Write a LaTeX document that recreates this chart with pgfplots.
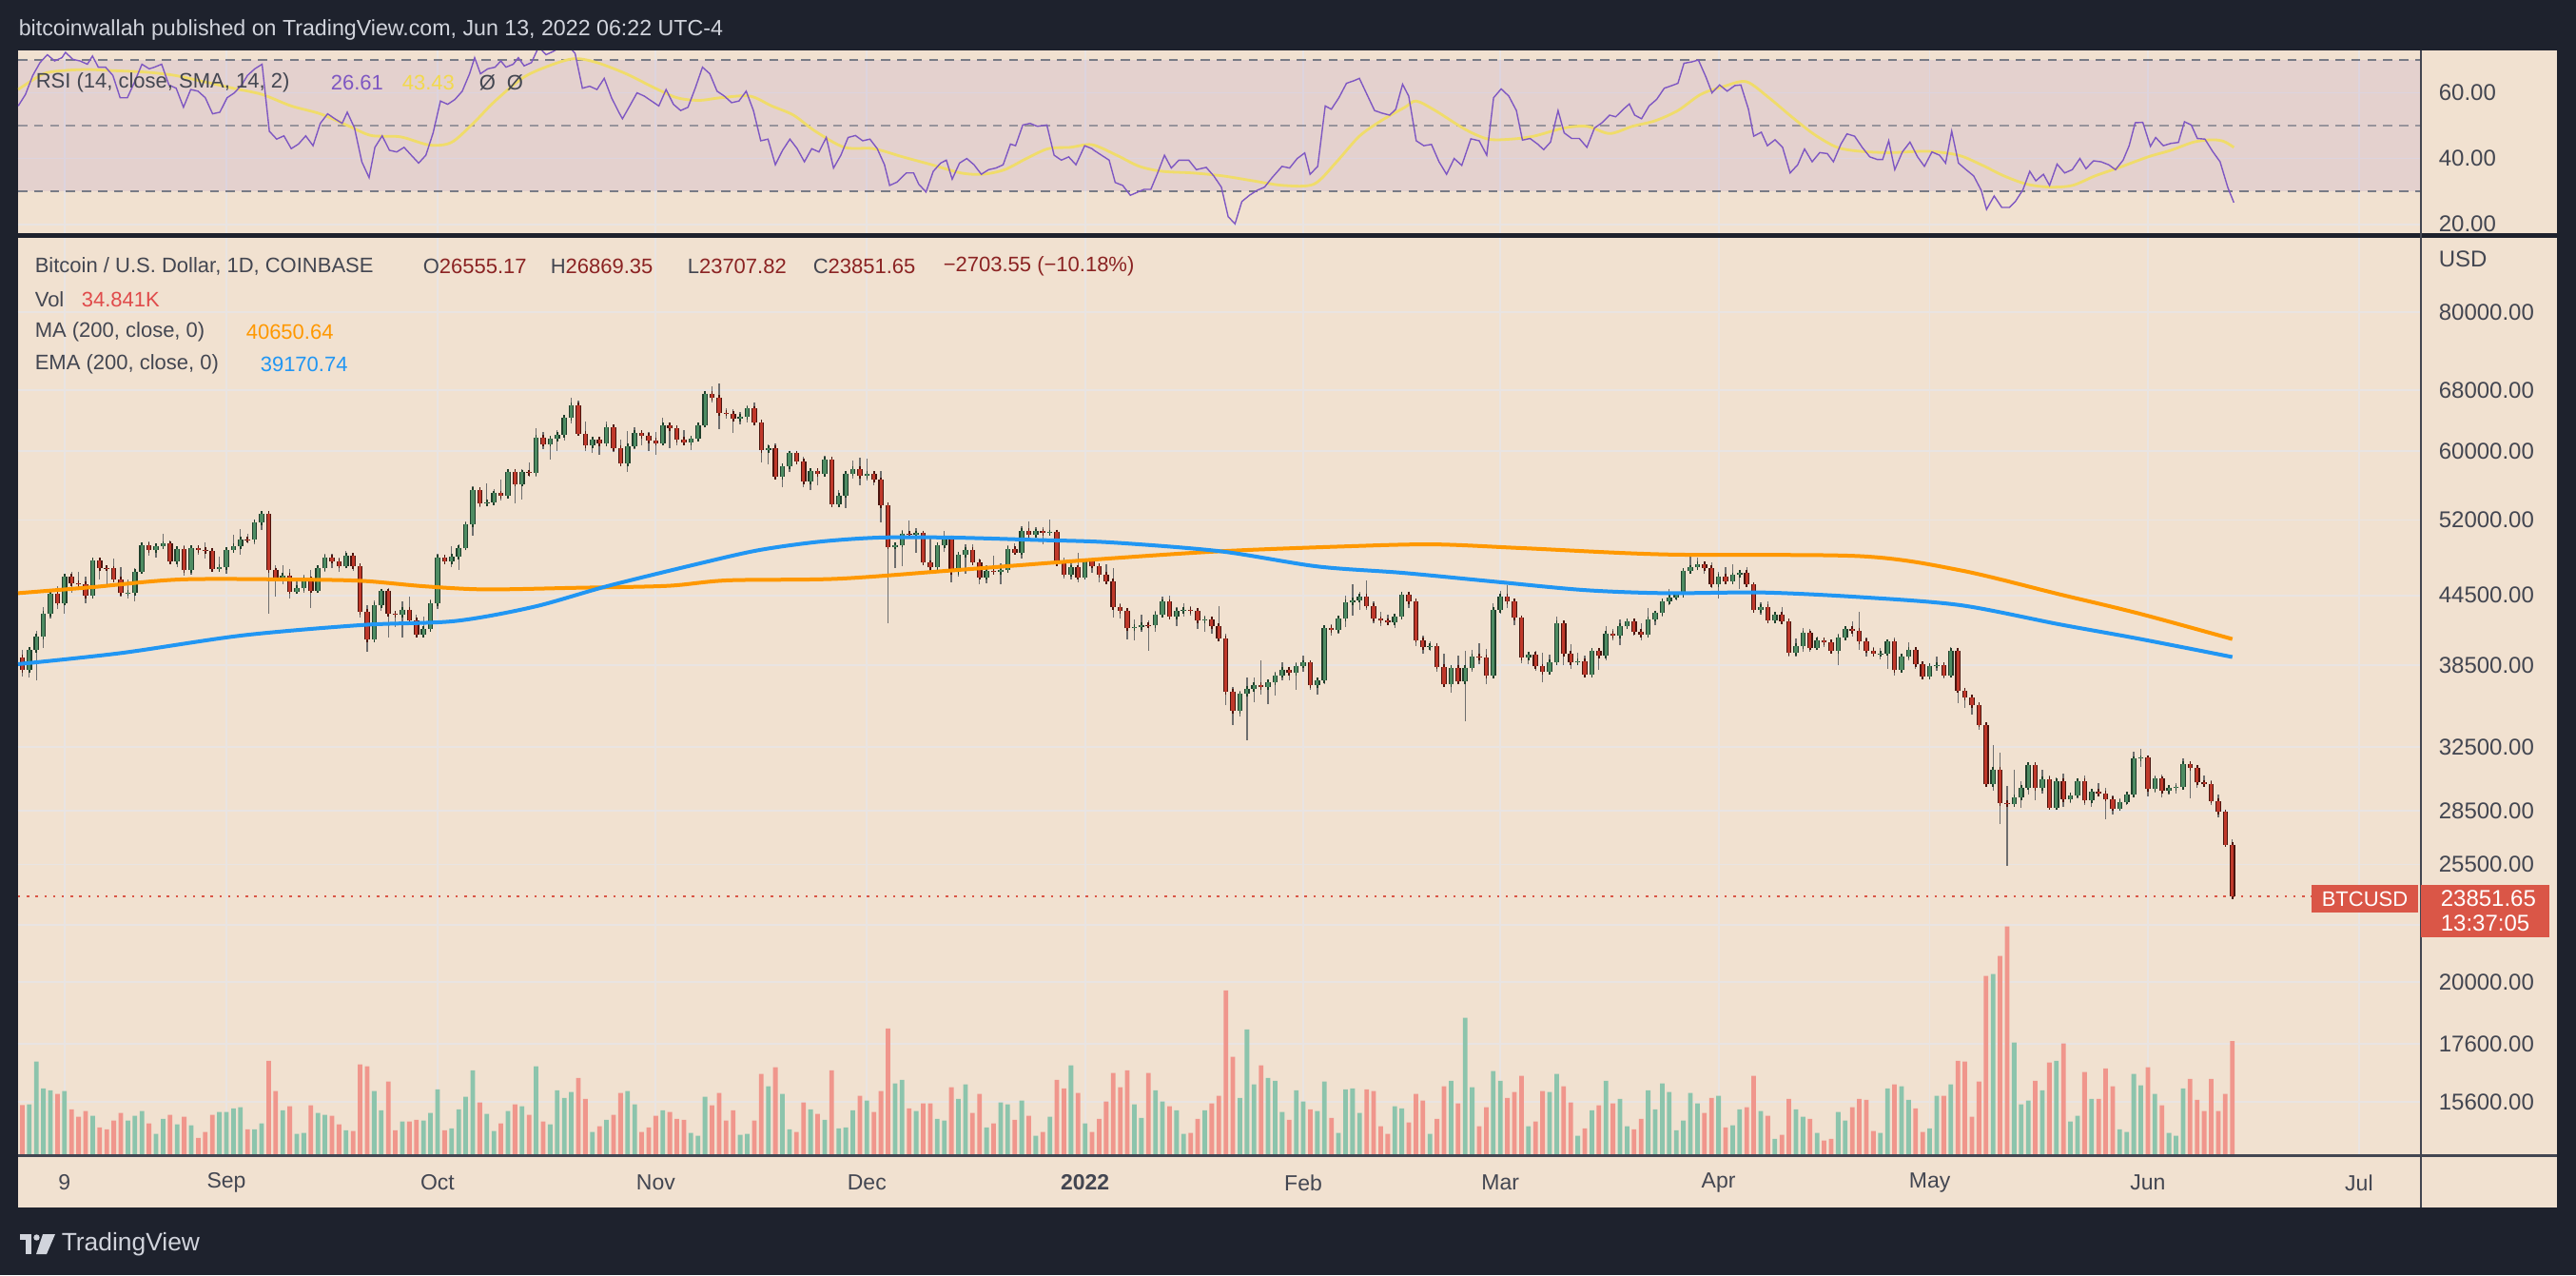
\documentclass[border=0pt]{standalone}
\usepackage{pgfplots}
\pgfplotsset{compat=1.18}
\usepackage{pgfplotstable}
\usepackage{fontspec}
\setmainfont{Liberation Sans}
\definecolor{frame}{HTML}{1E222D}
\definecolor{bg}{HTML}{F1E1D0}
\definecolor{gridc}{HTML}{E9E4E2}
\definecolor{dashc}{HTML}{787B86}
\definecolor{rsic}{HTML}{7E57C2}
\definecolor{smac}{HTML}{F0DC6A}
\definecolor{mac}{HTML}{FF9800}
\definecolor{emac}{HTML}{2196F3}
\definecolor{gbody}{HTML}{4E8C63}
\definecolor{gline}{HTML}{1F3F2B}
\definecolor{rbody}{HTML}{C0392B}
\definecolor{rline}{HTML}{4A140E}
\definecolor{wick}{HTML}{6E6E6E}
\definecolor{volg}{HTML}{8CC4AC}
\definecolor{volr}{HTML}{F0968C}
\definecolor{lbl}{HTML}{434651}
\definecolor{pricered}{HTML}{DA5647}
\definecolor{ohlc}{HTML}{8B2323}
\definecolor{volval}{HTML}{E04B4B}
\definecolor{hdr}{HTML}{D1D4DC}
\definecolor{yel}{HTML}{F2D94E}

\pgfplotstableread{
d o h l c v
2 39.15 39.78 37.65 38.15 15.3
3 38.15 39.95 37.51 39.74 15.5
4 39.74 41.37 37.33 40.87 28.6
5 40.87 43.39 39.88 42.83 20.4
6 42.83 44.70 42.45 44.61 19.8
7 44.61 45.31 43.30 43.81 18.7
8 43.81 46.45 42.85 46.29 19.6
9 46.29 46.70 44.70 45.60 14.0
10 45.60 46.74 45.35 45.55 11.7
11 45.55 46.22 43.80 44.43 13.5
12 44.43 47.89 44.24 47.81 12.0
13 47.81 48.14 45.98 47.10 8.5
14 47.10 47.39 45.54 47.05 7.9
15 47.05 48.05 45.67 45.99 10.6
16 45.99 47.16 44.40 44.69 12.9
17 44.69 46.00 44.21 44.74 10.6
18 44.74 47.04 43.97 46.75 12.0
19 46.75 49.38 46.67 49.34 13.5
20 49.34 49.79 48.31 48.87 9.7
21 48.87 49.51 48.15 49.28 6.5
22 49.28 50.50 49.05 49.51 11.1
23 49.51 49.85 47.60 47.71 12.3
24 47.71 49.24 47.16 48.98 9.4
25 48.98 49.34 46.33 46.90 11.7
26 46.90 49.17 46.40 49.06 9.1
27 49.06 49.30 48.42 48.90 5.3
28 48.90 49.63 48.03 48.81 7.1
29 48.81 48.91 46.87 46.99 12.3
30 46.99 48.22 46.70 47.15 13.2
31 47.15 48.95 46.57 48.85 13.2
32 48.85 50.40 48.65 49.27 14.3
33 49.27 51.05 48.38 49.99 14.6
34 49.99 50.55 49.51 49.92 7.9
35 49.92 51.90 49.45 51.77 7.9
36 51.77 52.78 50.99 52.67 9.7
37 52.67 52.92 42.84 46.86 28.8
38 46.86 47.36 44.41 46.08 19.6
39 46.08 47.40 45.53 46.37 13.7
40 46.37 47.03 44.17 44.85 14.9
41 44.85 45.99 44.75 45.16 6.5
42 45.16 46.47 44.76 46.04 6.8
43 46.04 46.88 43.37 44.95 15.2
44 44.95 47.26 44.69 47.10 12.9
45 47.10 48.47 46.72 48.16 12.3
46 48.16 48.50 47.06 47.78 12.0
47 47.78 48.15 46.76 47.30 9.4
48 47.30 48.81 47.06 48.31 7.6
49 48.31 48.36 46.85 47.26 7.4
50 47.26 47.35 42.50 42.99 27.7
51 42.99 43.63 39.60 40.62 27.1
52 40.62 44.00 40.56 43.58 19.6
53 43.58 44.98 43.07 44.88 13.7
54 44.88 45.15 40.77 42.84 22.5
55 42.84 42.96 41.68 42.72 7.6
56 42.72 43.92 40.80 43.21 10.3
57 43.21 44.35 42.11 42.24 10.3
58 42.24 42.78 40.90 41.03 10.8
59 41.03 42.62 40.76 41.52 10.6
60 41.52 44.13 41.44 43.79 12.9
61 43.79 48.49 43.29 48.12 20.1
62 48.12 48.34 47.43 47.71 7.6
63 47.71 49.25 47.14 48.20 8.2
64 48.20 49.49 46.91 49.11 14.0
65 49.11 51.88 49.05 51.51 17.8
66 51.51 55.75 50.38 55.33 25.9
67 55.33 55.34 53.39 53.80 16.1
68 53.80 56.10 53.66 53.96 12.6
69 53.96 55.49 53.70 54.96 7.4
70 54.96 56.55 54.10 54.66 9.7
71 54.66 57.84 54.43 57.48 13.5
72 57.48 57.68 53.88 56.04 15.5
73 56.04 57.81 54.30 57.40 14.9
74 57.40 58.54 56.84 57.36 12.3
75 57.36 62.93 56.86 61.67 27.1
76 61.67 62.37 60.17 60.88 10.3
77 60.88 61.73 58.98 61.53 9.4
78 61.53 62.66 60.00 62.01 19.8
79 62.01 64.49 61.33 64.28 17.5
80 64.28 67.00 63.48 66.00 19.3
81 66.00 66.64 62.05 62.21 23.6
82 62.21 63.73 60.00 60.69 17.2
83 60.69 61.75 59.71 61.39 7.1
84 61.39 61.47 59.50 60.89 8.8
85 60.89 63.72 60.66 63.04 10.8
86 63.04 63.29 59.84 60.36 12.3
87 60.36 61.46 58.10 58.47 19.0
88 58.47 62.50 57.43 60.62 19.6
89 60.62 62.96 60.21 62.25 15.5
90 62.25 62.36 60.72 61.89 7.1
91 61.89 62.41 60.03 61.32 8.5
92 61.32 62.39 59.54 61.00 12.0
93 61.00 64.27 60.69 63.23 13.7
94 63.23 63.52 60.37 62.93 13.2
95 62.93 62.93 60.72 61.44 11.1
96 61.44 62.60 60.75 61.01 10.8
97 61.01 61.57 60.11 61.53 6.8
98 61.53 63.30 61.34 63.32 5.9
99 63.32 67.79 63.12 67.56 17.8
100 67.56 68.53 66.38 66.95 15.2
101 66.95 69.00 62.82 64.93 19.0
102 64.93 65.58 64.11 64.83 10.6
103 64.83 65.48 62.33 64.16 13.7
104 64.16 64.97 63.41 64.40 6.2
105 64.40 65.90 63.60 65.50 6.5
106 65.50 66.34 63.37 63.62 10.6
107 63.62 63.62 58.57 60.11 24.8
108 60.11 60.81 58.37 60.37 21.0
109 60.37 60.95 56.50 56.89 26.8
110 56.89 58.37 55.62 58.12 18.7
111 58.12 59.85 57.44 59.70 7.9
112 59.70 60.00 58.50 58.73 7.1
113 58.73 59.29 55.61 56.30 16.1
114 56.30 57.87 55.39 57.57 14.0
115 57.57 57.75 55.88 57.18 12.6
116 57.18 59.40 57.00 58.96 10.8
117 58.96 59.18 53.55 53.73 25.9
118 53.73 55.32 53.66 54.72 8.2
119 54.72 57.44 53.30 57.27 8.5
120 57.27 58.87 56.71 57.80 13.7
121 57.80 59.20 55.88 56.95 18.1
122 56.95 59.04 56.46 57.20 16.7
123 57.20 57.38 55.84 56.51 13.2
124 56.51 57.60 51.70 53.60 19.6
125 53.60 53.86 42.00 49.20 38.7
126 49.20 49.70 47.10 49.40 21.9
127 49.40 50.90 47.30 50.58 23.0
128 50.58 51.94 50.05 50.47 14.3
129 50.47 51.18 48.62 50.60 13.5
130 50.60 50.78 47.33 47.60 15.8
131 47.60 50.10 46.85 47.14 15.8
132 47.14 49.47 46.66 49.38 11.1
133 49.38 50.80 48.67 50.10 10.6
134 50.10 50.20 45.67 46.70 20.7
135 46.70 48.70 46.30 48.38 17.2
136 48.38 49.50 46.55 48.88 21.6
137 48.88 49.45 47.52 47.64 12.9
138 47.64 47.99 45.50 46.20 18.7
139 46.20 47.33 45.60 46.85 8.5
140 46.85 48.30 46.41 46.70 9.7
141 46.70 47.53 45.56 46.88 16.1
142 46.88 49.33 46.65 48.96 15.5
143 48.96 49.58 48.45 48.62 10.8
144 48.62 51.38 48.05 50.82 16.7
145 50.82 51.82 50.40 50.43 12.0
146 50.43 51.20 50.20 50.81 5.9
147 50.81 51.28 49.45 50.64 7.1
148 50.64 52.10 50.48 50.70 11.7
149 50.70 50.70 47.32 47.54 23.0
150 47.54 48.13 46.10 46.47 20.4
151 46.47 47.90 46.00 47.13 27.4
152 47.13 48.55 45.68 46.21 19.0
153 46.21 47.93 46.21 47.72 9.7
154 47.72 47.98 46.66 47.30 7.1
155 47.30 47.57 45.70 46.44 11.1
156 46.44 47.50 45.52 45.83 16.4
157 45.83 47.07 42.50 43.43 25.1
158 43.43 43.75 42.43 43.10 20.7
159 43.10 43.14 40.61 41.55 25.9
160 41.55 42.30 40.50 41.68 15.5
161 41.68 42.79 41.27 41.87 11.4
162 41.87 42.25 39.65 41.83 25.1
163 41.83 43.10 41.27 42.74 19.8
164 42.74 44.35 42.47 43.92 16.4
165 43.92 44.44 42.31 42.59 14.9
166 42.59 43.45 41.73 43.10 13.7
167 43.10 43.80 42.60 43.18 6.5
168 43.18 43.48 42.69 43.11 6.8
169 43.11 43.18 41.54 42.25 11.1
170 42.25 42.69 41.27 42.37 13.7
171 42.37 42.59 41.14 41.74 15.8
172 41.74 43.51 40.55 40.69 18.1
173 40.69 41.10 35.44 36.47 50.3
174 36.47 36.80 34.01 35.05 30.0
175 35.05 36.55 34.62 36.28 17.5
176 36.28 37.55 32.95 36.68 38.4
177 36.68 37.55 35.70 36.96 21.6
178 36.96 38.92 36.26 36.82 27.4
179 36.82 37.23 35.51 37.18 23.6
180 37.18 38.00 36.15 37.72 22.7
181 37.72 38.72 37.31 38.17 13.2
182 38.17 38.36 37.35 37.92 10.8
183 37.92 38.74 36.63 38.48 19.8
184 38.48 39.27 38.02 38.72 16.4
185 38.72 38.86 36.62 36.95 14.0
186 36.95 37.39 36.26 37.32 13.5
187 37.32 41.73 37.06 41.57 22.5
188 41.57 41.95 40.95 41.41 11.4
189 41.41 42.63 41.13 42.41 6.8
190 42.41 44.50 41.68 43.85 20.1
191 43.85 45.49 42.67 44.06 20.4
192 44.06 44.80 43.17 44.39 12.9
193 44.39 45.86 43.20 43.56 20.1
194 43.56 43.93 42.02 42.39 19.6
195 42.39 43.00 41.78 42.22 8.8
196 42.22 42.76 41.89 42.07 6.5
197 42.07 42.85 41.57 42.57 14.9
198 42.57 44.77 42.44 44.58 14.3
199 44.58 44.58 43.33 43.95 10.0
200 43.95 44.20 40.10 40.57 18.7
201 40.57 40.97 39.45 40.00 16.7
202 40.00 40.48 39.65 40.10 6.5
203 40.10 40.15 38.03 38.40 11.1
204 38.40 39.48 36.80 37.02 21.0
205 37.02 38.45 36.35 38.28 22.7
206 38.28 39.25 37.07 37.26 15.8
207 37.26 39.70 34.32 38.33 41.9
208 38.33 39.72 38.02 39.22 20.7
209 39.22 40.30 38.57 39.12 8.8
210 39.12 39.85 37.00 37.70 14.6
211 37.70 43.75 37.45 43.19 25.7
212 43.19 44.95 42.83 44.42 22.7
213 44.42 45.40 43.35 43.93 17.5
214 43.93 44.10 41.85 42.46 19.3
215 42.46 42.53 38.70 39.15 24.2
216 39.15 39.63 38.60 39.40 8.8
217 39.40 39.70 38.10 38.42 10.3
218 38.42 39.55 37.15 37.99 19.6
219 37.99 39.40 37.88 38.74 19.3
220 38.74 42.60 38.66 41.98 24.8
221 41.98 42.00 38.55 39.44 21.0
222 39.44 40.20 38.24 38.73 16.1
223 38.73 39.50 38.66 38.81 5.9
224 38.81 39.30 37.60 37.79 8.2
225 37.79 39.93 37.58 39.68 13.7
226 39.68 39.87 38.12 39.28 15.2
227 39.28 41.72 38.92 41.12 22.7
228 41.12 41.47 40.53 40.92 15.8
229 40.92 42.33 40.14 41.77 17.2
230 41.77 42.40 41.52 42.20 8.8
231 42.20 42.30 40.92 41.26 7.9
232 41.26 42.00 40.50 41.00 11.1
233 41.00 43.35 40.90 42.37 19.8
234 42.37 43.00 41.85 42.89 14.0
235 42.89 44.25 42.60 43.96 21.9
236 43.96 45.10 43.60 44.33 19.3
237 44.33 44.80 44.07 44.52 7.6
238 44.52 46.94 44.42 46.82 10.6
239 46.82 48.19 46.65 47.13 19.0
240 47.13 48.10 46.95 47.45 15.8
241 47.45 47.70 46.55 47.07 12.9
242 47.07 47.60 45.20 45.53 17.5
243 45.53 46.70 44.20 46.29 18.1
244 46.29 47.20 45.62 45.82 8.5
245 45.82 47.43 45.53 46.41 9.1
246 46.41 46.89 45.12 46.62 14.0
247 46.62 47.20 45.36 45.50 14.6
248 45.50 45.50 43.10 43.17 24.2
249 43.17 43.90 42.73 43.44 13.5
250 43.44 43.97 42.11 42.25 12.0
251 42.25 42.80 42.13 42.76 5.0
252 42.76 43.42 42.15 42.16 6.2
253 42.16 42.42 39.20 39.53 17.2
254 39.53 40.68 39.24 40.07 14.0
255 40.07 41.55 39.57 41.15 11.7
256 41.15 41.47 39.57 39.94 11.1
257 39.94 40.85 39.78 40.55 6.8
258 40.55 40.70 40.02 40.38 4.5
259 40.38 40.60 39.55 39.68 5.0
260 39.68 41.10 38.53 40.80 13.2
261 40.80 41.75 40.55 41.50 10.6
262 41.50 42.20 40.83 41.37 14.6
263 41.37 42.98 39.75 40.48 17.2
264 40.48 40.80 39.17 39.71 16.9
265 39.71 39.98 39.30 39.45 7.4
266 39.45 39.93 39.00 39.47 6.8
267 39.47 40.60 38.20 40.43 20.4
268 40.43 40.80 37.70 38.11 21.6
269 38.11 39.45 37.88 39.24 21.0
270 39.24 40.36 38.88 39.74 16.9
271 39.74 39.90 38.20 38.60 14.3
272 38.60 38.80 37.58 37.64 7.1
273 37.64 38.68 37.39 38.47 8.2
274 38.47 39.17 38.05 38.52 18.1
275 38.52 38.65 37.50 37.72 18.1
276 37.72 40.00 37.67 39.69 21.6
277 39.69 39.85 35.58 36.55 28.8
278 36.55 36.65 35.25 36.01 28.6
279 36.01 36.13 34.75 35.47 11.7
280 35.47 35.50 33.71 34.05 22.5
281 34.05 34.24 30.03 30.10 54.7
282 30.10 32.66 29.73 31.01 55.3
283 31.01 32.16 27.70 28.95 60.8
284 28.95 30.00 25.40 28.90 69.8
285 28.90 30.99 28.71 29.28 34.4
286 29.28 30.31 28.64 29.90 15.5
287 29.90 31.41 29.48 31.31 16.7
288 31.31 31.31 29.10 29.86 22.7
289 29.86 31.02 29.53 30.43 19.8
290 30.43 30.68 28.62 28.69 28.3
291 28.69 30.53 28.68 30.31 28.8
292 30.31 30.75 28.73 29.19 34.1
293 29.19 29.60 28.95 29.43 10.3
294 29.43 30.45 29.25 30.32 12.0
295 30.32 30.67 28.85 29.10 25.4
296 29.10 29.83 28.70 29.65 17.2
297 29.65 30.20 29.37 29.54 17.2
298 29.54 29.85 28.02 29.20 26.5
299 29.20 29.38 28.28 28.63 21.0
300 28.63 29.25 28.57 29.03 7.9
301 29.03 29.55 28.85 29.47 7.1
302 29.47 32.22 29.30 31.73 24.8
303 31.73 32.40 31.20 31.80 21.3
304 31.80 31.96 29.35 29.80 26.8
305 29.80 30.66 29.58 30.45 18.7
306 30.45 30.69 29.30 29.70 15.2
307 29.70 29.95 29.48 29.86 6.8
308 29.86 30.15 29.50 29.91 5.9
309 29.91 31.76 29.88 31.37 20.4
310 31.37 31.56 29.22 31.13 23.3
311 31.13 31.33 29.85 30.21 16.9
312 30.21 30.65 29.95 30.10 13.5
313 30.10 30.38 28.85 29.09 23.3
314 29.09 29.45 28.10 28.42 13.5
315 28.42 28.55 26.50 26.57 18.7
316 26.555 26.869 23.708 23.852 34.8
}\ohlc

\pgfplotstableread{
x r
1.42 56
2.45 59.5
3.49 65.3
4.52 69.2
5.56 71.6
6.59 69.7
7.63 70.7
8.14 72.3
9.18 70.2
10.21 69.7
11.25 68.7
11.97 71.2
12.80 67.8
13.83 67.8
14.87 65.3
15.90 58.5
16.93 58.5
17.97 63.4
19.00 68.7
20.04 67.3
20.76 67.8
21.80 68.7
22.83 62.4
23.86 61.4
24.90 55.6
25.93 61
26.97 60.5
28.00 58.5
29.04 53.6
30.07 54.1
31.10 58.5
32.14 60
33.17 62.4
34.00 65.3
35.03 67.3
36.07 68.7
37.10 48.3
38.14 45.9
39.17 46.9
40.21 43
41.24 44.4
42.27 46.9
43.31 43.9
44.34 50.7
45.38 53.6
46.41 52.1
47.45 50.7
48.17 54.1
49.20 49.3
50.24 39
51.27 34.2
52.10 43.4
53.13 46.9
54.17 42.5
55.20 42
56.24 43.4
57.27 41
58.31 38.6
59.34 41
60.37 47.8
61.41 57.5
62.44 56.5
63.48 58
64.51 60.5
65.55 65.8
66.27 70.7
67.10 65.8
68.13 67.3
69.17 67.8
69.99 69.7
70.72 67.8
71.75 68.7
72.48 70.7
73.30 68.2
74.34 69.2
75.37 74
76.41 71.6
77.44 72.6
78.48 74
79.51 74.5
80.54 72
81.58 61.4
82.61 62
83.65 61
84.68 64.4
85.72 58.5
86.75 54.1
87.27 52.1
88.30 56
89.34 60
90.37 59
91.40 57.5
92.44 56
93.47 61
94.51 56.5
95.54 54.6
96.58 55.6
97.61 61.4
98.64 67.8
99.68 65.8
100.71 60.5
101.75 59
102.78 57
103.82 57.5
104.85 60.5
105.88 54.6
106.92 45.4
107.95 45.9
108.99 38.1
110.02 42.5
111.06 45.9
112.09 43
113.12 39
114.16 43
115.19 42
116.23 46.4
117.26 37.1
118.30 41
119.33 46.4
120.37 47
121.40 45.4
122.43 45.9
123.47 43
124.50 38.1
125.23 31.8
126.26 32.8
127.60 35.6
128.64 35.6
129.36 32.2
130.40 29.8
131.43 36.1
132.47 38.6
133.29 39.5
134.12 33.7
135.16 38.6
136.19 40
137.22 38.1
138.26 35.2
139.29 36.6
140.33 37.1
141.36 38.1
142.40 44.4
143.12 43.9
144.15 50.2
145.19 50.7
146.22 49.8
147.57 50.2
148.60 41
149.63 39.5
150.67 40.5
151.70 38.1
152.94 43.9
153.98 43
154.26 42.5
155.34 41
156.42 39.5
157.28 32.7
158.35 31.8
159.43 28.8
160.51 29.8
161.37 30.6
162.34 30.6
163.31 35.6
164.28 41
165.25 37.1
166.33 39.5
167.73 39.5
168.81 36.6
170.21 37.3
171.28 34.7
172.36 31.3
173.33 22.3
174.30 20.1
175.27 26.9
176.35 28.8
177.43 30.3
178.50 31.3
179.58 34.2
180.98 37.6
182.06 37.1
183.14 40
184.21 41.7
184.97 35.2
186.05 37.6
187.12 56
187.99 55
189.06 58.5
190.14 62.9
191.22 63.7
191.97 64.4
193.05 59.5
194.13 54.6
195.21 53.8
196.28 53.2
197.14 55
198.11 62.6
198.98 59
200.05 45.4
201.13 43.9
202.21 44.3
203.29 39
204.36 35.2
205.44 40
206.52 37.9
207.81 46
208.99 45.4
210.07 41
211.04 58.5
212.12 61.2
213.20 59
214.28 54.6
215.14 45.6
216.22 46.1
217.29 44.4
218.16 42.7
219.13 45
220.20 54.6
221.07 47.8
222.14 46.1
223.22 46.1
224.30 43.4
225.38 49.3
226.45 50.9
227.53 53.2
228.39 52.7
229.47 55
230.33 56.6
231.09 53.2
232.06 52.1
233.13 56
234.21 58
235.29 61.4
236.37 62.2
237.23 62.9
238.09 69
239.17 69.4
240.14 70
241.21 64.8
242.07 60
243.15 62.4
244.23 60.5
245.31 62.2
246.17 62.4
247.25 55
248.00 46.8
249.08 48
249.94 43.9
251.02 45.7
252.10 43.4
253.17 35.6
254.25 38.1
255.22 42.9
256.30 39
257.38 41.8
258.45 41.5
259.32 39
260.39 44.4
261.25 47.5
262.33 46.8
263.41 43.4
264.49 40.5
265.56 39.7
266.32 39.7
267.18 45.4
268.04 36.6
269.12 42
270.20 45
271.28 40.5
272.25 37.6
273.32 42
274.40 41
275.26 38.6
276.13 48.3
277.09 38.6
278.17 36.6
279.25 34.7
280.33 30.3
281.08 24.5
282.16 28.6
283.24 25.1
284.31 25.1
285.17 26.9
286.25 30.5
287.22 36.1
288.08 33.2
289.16 35.2
290.03 31.8
291.10 38.3
292.18 35.6
293.26 36.6
294.34 40
295.20 36.9
296.28 39.3
297.35 39
298.43 38.1
299.40 36.6
300.48 39.5
301.34 43.9
302.20 50.9
303.28 51
304.36 43.7
305.11 46.4
306.19 43.9
307.27 44.6
308.34 44.9
309.20 51.2
310.17 50.2
311.03 46.1
312.11 45.9
313.19 42.2
314.26 39
315.34 31.3
316.21 26.6
}\rsidata

\pgfplotstableread{
x s
1.42 61
5.04 65.8
8.14 66.8
11.25 67.1
14.35 66.8
19.52 66.3
23.66 65.3
27.79 63.4
31.93 61.4
36.07 59.5
40.21 56
44.34 53.6
48.48 49.8
51.58 47
55.72 46.6
59.86 44.1
62.96 44.9
66.06 50.7
69.17 57.5
73.30 64.8
77.44 68.7
80.54 70.4
83.65 69.2
87.78 65.8
91.92 61.4
95.02 58.5
98.13 57.7
101.23 58.5
105.37 59
108.47 56
111.57 53.2
114.67 48.3
118.81 43.4
122.95 43
127.09 40.5
131.22 38.1
135.36 35.6
138.46 35.2
141.57 36.6
144.67 40
147.77 43
150.88 43.4
153.98 44.2
157.49 41
160.73 37.6
163.96 36.1
168.27 35.6
172.58 34.7
176.89 33.2
181.20 31.8
185.51 32.2
188.74 39
191.97 46.8
195.21 51.7
198.44 55.6
200.05 57.5
202.75 54.6
207.06 48.8
210.29 45.9
213.52 45.9
216.76 46.8
221.07 49.3
224.30 49.8
227.53 47.6
230.76 49.8
234.00 51.5
237.23 54.6
240.46 59.5
243.69 61.9
246.93 63.4
250.16 58.5
253.39 52.7
256.62 47.3
259.86 43.4
263.09 42.2
267.40 41.8
272.78 42.2
277.09 41
280.33 38.1
283.56 34.7
286.79 32.2
290.03 31.3
293.26 31.8
296.49 34.7
299.72 37.1
304.03 40.5
307.27 42.5
310.50 45
313.19 45.7
314.80 45.2
316.21 43.4
}\smadata

\newcommand{\lf}{\fontsize{5.5}{6.5}\selectfont}
\newcommand{\af}{\fontsize{6}{7}\selectfont}

\begin{document}
\begin{tikzpicture}
\useasboundingbox (0,0) rectangle (677pt,-335pt);
\fill[frame] (0,0) rectangle (677pt,-335pt);
\begin{scope}[x=0.25pt,y=-0.25pt]
\fill[bg] (19,53) rectangle (2688,1269);
\node[anchor=west, inner sep=0pt, text=hdr, font=\fontsize{5.8}{7}\selectfont] at (19,31) {bitcoinwallah published on TradingView.com, Jun 13, 2022 06:22 UTC-4};
\end{scope}

% ---------- RSI pane ----------
\begin{axis}[
  at={(4.75pt,-13.25pt)}, anchor=north west, scale only axis,
  width=631.5pt, height=48.5pt,
  xmin=1.4, xmax=342.8, ymin=16.7, ymax=72.9,
  axis line style={draw=none}, major tick length=0pt,
  xtick={8,31,61,92,122,153,184,212,243,273,304,334}, xticklabels={},
  ytick={20,40,60}, yticklabels={20.00,40.00,60.00},
  yticklabel pos=right,
  yticklabel style={anchor=west, inner sep=0pt, xshift=4.5pt, font=\af, text=lbl},
  grid=major, grid style={draw=gridc, line width=0.45pt},
]
\fill[rsic, fill opacity=0.11] (axis cs:1.4,30) rectangle (axis cs:342.8,70);
\addplot[dashc, line width=0.5pt, dash pattern=on 2.4pt off 1.8pt] coordinates {(1.4,70) (342.8,70)};
\addplot[dashc, line width=0.5pt, dash pattern=on 2.4pt off 1.8pt, opacity=0.7] coordinates {(1.4,50) (342.8,50)};
\addplot[dashc, line width=0.5pt, dash pattern=on 2.4pt off 1.8pt] coordinates {(1.4,30) (342.8,30)};
\addplot[smac, line width=0.7pt, smooth, tension=0.5, mark=none] table[x=x, y=s] {\smadata};
\addplot[rsic, line width=0.35pt, mark=none] table[x=x, y=r] {\rsidata};
\end{axis}

% ---------- main pane: grid and labels ----------
\begin{axis}[
  at={(4.75pt,-61.75pt)}, anchor=north west, scale only axis,
  width=631.5pt, height=241.75pt,
  xmin=1.4, xmax=342.8, ymode=log, ymin=13.97, ymax=93.8,
  axis line style={draw=none}, major tick length=0pt, yminorticks=false,
  xtick={8,31,61,92,122,153,184,212,243,273,304,334},
  xticklabels={9,Sep,Oct,Nov,Dec,\textbf{2022},Feb,Mar,Apr,May,Jun,Jul},
  xticklabel style={anchor=center, yshift=-7.25pt, font=\fontsize{5.75}{7}\selectfont, text=lbl},
  ytick={15.6,17.6,20,25.5,28.5,32.5,38.5,44.5,52,60,68,80},
  yticklabels={15600.00,17600.00,20000.00,25500.00,28500.00,32500.00,38500.00,44500.00,52000.00,60000.00,68000.00,80000.00},
  extra y ticks={22.5}, extra y tick labels={},
  yticklabel pos=right,
  yticklabel style={anchor=west, inner sep=0pt, xshift=4.5pt, font=\af, text=lbl},
  grid=major, grid style={draw=gridc, line width=0.45pt},
]
\end{axis}

% ---------- volume ----------
\begin{axis}[
  at={(4.75pt,-61.75pt)}, anchor=north west, scale only axis,
  width=631.5pt, height=241.75pt,
  xmin=1.4, xmax=342.8, ymin=0, ymax=280.8, hide axis,
]
\addplot[ybar, bar width=1.2pt, bar shift=0pt, fill=volg, draw=none]
  table[x=d, y expr={\thisrow{c}>=\thisrow{o} ? \thisrow{v} : nan}] {\ohlc};
\addplot[ybar, bar width=1.2pt, bar shift=0pt, fill=volr, draw=none]
  table[x=d, y expr={\thisrow{c}<\thisrow{o} ? \thisrow{v} : nan}] {\ohlc};
\end{axis}

% ---------- candles and averages ----------
\begin{axis}[
  at={(4.75pt,-61.75pt)}, anchor=north west, scale only axis,
  width=631.5pt, height=241.75pt,
  xmin=1.4, xmax=342.8, ymode=log, ymin=13.97, ymax=93.8, hide axis,
]
\addplot[pricered, line width=0.45pt, dash pattern=on 0.6pt off 1.7pt] coordinates {(1.4,23.85165) (342.8,23.85165)};
% wicks
\addplot[draw=none, mark=none, error bars/.cd, y dir=both, y explicit, error mark=none,
  error bar style={draw=wick, line width=0.33pt}]
  table[x=d, y=c, y error plus expr={\thisrow{h}-\thisrow{c}}, y error minus expr={\thisrow{c}-\thisrow{l}}] {\ohlc};
% up bodies
\addplot[draw=none, mark=none, error bars/.cd, y dir=both, y explicit, error mark=-,
  error mark options={draw=gline, line width=0.4pt, mark size=0.7pt},
  error bar style={draw=gline, line width=1.4pt}]
  table[x=d, y expr={\thisrow{c}>=\thisrow{o} ? \thisrow{c} : nan}, y error plus expr={0}, y error minus expr={\thisrow{c}-\thisrow{o}}] {\ohlc};
\addplot[draw=none, mark=none, error bars/.cd, y dir=both, y explicit, error mark=none,
  error bar style={draw=gbody, line width=0.8pt}]
  table[x=d, y expr={\thisrow{c}>=\thisrow{o} ? \thisrow{c} : nan}, y error plus expr={0}, y error minus expr={\thisrow{c}-\thisrow{o}}] {\ohlc};
% down bodies
\addplot[draw=none, mark=none, error bars/.cd, y dir=both, y explicit, error mark=-,
  error mark options={draw=rline, line width=0.4pt, mark size=0.7pt},
  error bar style={draw=rline, line width=1.4pt}]
  table[x=d, y expr={\thisrow{c}<\thisrow{o} ? \thisrow{c} : nan}, y error plus expr={\thisrow{o}-\thisrow{c}}, y error minus expr={0}] {\ohlc};
\addplot[draw=none, mark=none, error bars/.cd, y dir=both, y explicit, error mark=none,
  error bar style={draw=rbody, line width=0.8pt}]
  table[x=d, y expr={\thisrow{c}<\thisrow{o} ? \thisrow{c} : nan}, y error plus expr={\thisrow{o}-\thisrow{c}}, y error minus expr={0}] {\ohlc};
% moving averages
\addplot[mac, line width=1pt, smooth, mark=none] coordinates {
(1.4,44.70) (11.77,45.25) (24.65,45.99) (41.95,45.97) (50.56,45.84) (59.11,45.34)
(67.76,45.05) (80.74,45.2) (93.64,45.38) (102.2,45.9) (117.77,46.05) (134.0,46.85)
(154.9,47.95) (172.2,48.75) (189.4,49.23) (202.4,49.45) (215.3,49.06) (235.4,48.43)
(263.3,48.25) (277.4,46.86) (291.4,44.6) (302.6,42.88) (316,40.65)};
\addplot[emac, line width=1pt, smooth, mark=none] coordinates {
(1.4,38.60) (16.08,39.5) (33.3,40.96) (50.56,41.86) (63.44,42.19) (74.65,43.45)
(85.03,45.34) (97.9,47.48) (106.55,48.85) (115.2,49.72) (123.85,50.15) (134.0,50.15)
(146.3,49.9) (156.7,49.65) (172.2,48.75) (186.0,47.24) (198.1,46.62) (211.0,45.79)
(223.9,44.99) (235.4,44.7) (249.4,44.76) (263.3,44.33) (277.4,43.6) (291.4,41.91)
(302.6,40.69) (316,39.17)};
\end{axis}

% ---------- overlays ----------
\begin{scope}[x=0.25pt,y=-0.25pt]
\fill[frame] (19,245) rectangle (2688,249.5);
\fill[lbl] (19,1212.5) rectangle (2688,1215.5);
\draw[lbl, line width=0.5pt] (2545,53) -- (2545,1269);
% price labels
\fill[pricered] (2430,930) rectangle (2542,959);
\node[text=white, inner sep=0pt, font=\lf] at (2486,944.5) {BTCUSD};
\fill[pricered] (2545,930) rectangle (2680,985);
\node[anchor=west, text=white, inner sep=0pt, font=\af] at (2565,944) {23851.65};
\node[anchor=west, text=white, inner sep=0pt, font=\af] at (2565,970) {13:37:05};
\node[anchor=west, text=lbl, inner sep=0pt, font=\af] at (2563,272) {USD};
% legends
\node[anchor=west, inner sep=0pt, text=lbl, font=\lf] at (37,87) {RSI (14, close, SMA, 14, 2)};
\node[anchor=west, inner sep=0pt, text=rsic, font=\lf] at (347,87) {26.61};
\node[anchor=west, inner sep=0pt, text=yel, font=\lf] at (422,87) {43.43};
\node[anchor=west, inner sep=0pt, text=lbl, font=\lf] at (503,87) {Ø};
\node[anchor=west, inner sep=0pt, text=lbl, font=\lf] at (532,87) {Ø};
\node[anchor=west, inner sep=0pt, text=lbl, font=\lf] at (36,280) {Bitcoin / U.S. Dollar, 1D, COINBASE};
\node[anchor=west, inner sep=0pt, font=\lf] at (444,280) {\textcolor{lbl}{O}\textcolor{ohlc}{26555.17}};
\node[anchor=west, inner sep=0pt, font=\lf] at (578,280) {\textcolor{lbl}{H}\textcolor{ohlc}{26869.35}};
\node[anchor=west, inner sep=0pt, font=\lf] at (722,280) {\textcolor{lbl}{L}\textcolor{ohlc}{23707.82}};
\node[anchor=west, inner sep=0pt, font=\lf] at (854,280) {\textcolor{lbl}{C}\textcolor{ohlc}{23851.65}};
\node[anchor=west, inner sep=0pt, text=ohlc, font=\lf] at (991,280) {−2703.55 (−10.18\%)};
\node[anchor=west, inner sep=0pt, text=lbl, font=\lf] at (36,315) {Vol};
\node[anchor=west, inner sep=0pt, text=volval, font=\lf] at (85,315) {34.841K};
\node[anchor=west, inner sep=0pt, text=lbl, font=\lf] at (36,349) {MA (200, close, 0)};
\node[anchor=west, inner sep=0pt, text=mac, font=\lf] at (258,349) {40650.64};
\node[anchor=west, inner sep=0pt, text=lbl, font=\lf] at (36,383) {EMA (200, close, 0)};
\node[anchor=west, inner sep=0pt, text=emac, font=\lf] at (273,383) {39170.74};
% footer logo
\fill[hdr] (21,1297) rectangle (33,1303);
\fill[hdr] (27,1297) rectangle (33,1318);
\fill[hdr] (38.5,1300.5) circle (3.2);
\fill[hdr] (45,1297) -- (58,1297) -- (49,1318) -- (38,1318) -- cycle;
\node[anchor=west, inner sep=0pt, text=hdr, font=\fontsize{6.6}{8}\selectfont] at (64,1308) {TradingView};
\end{scope}
\end{tikzpicture}
\end{document}
